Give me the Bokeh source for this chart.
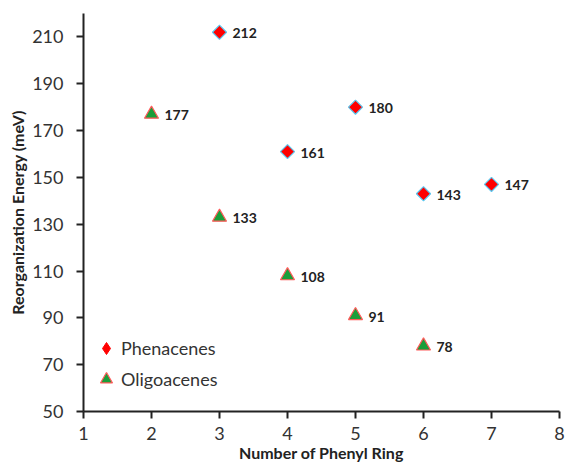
from bokeh.plotting import figure
from bokeh.models import Range1d, FixedTicker, Legend, LegendItem, ColumnDataSource
from bokeh.core.properties import value
from bokeh.embed import file_html
from bokeh.resources import INLINE

phen_x = [3, 5, 4, 6, 7]
phen_y = [212, 180, 161, 143, 147]
olig_x = [2, 3, 4, 5, 6]
olig_y = [177, 133, 108, 91, 78]
x_ticks = [1, 2, 3, 4, 5, 6, 7, 8]
y_ticks = [50, 70, 90, 110, 130, 150, 170, 190, 210]

FONT = "Lato"

p = figure(width=565, height=465, output_backend="svg", toolbar_location=None,
           x_range=Range1d(1, 8), y_range=Range1d(50, 220),
           min_border_left=83, min_border_right=6, min_border_top=13, min_border_bottom=54)
p.grid.visible = False
p.outline_line_color = None
p.background_fill_color = "white"
p.border_fill_color = "white"

for ax in (p.xaxis[0], p.yaxis[0]):
    ax.axis_line_width = 2
    ax.axis_line_color = "#222222"
    ax.major_tick_line_color = "#222222"
    ax.major_tick_line_width = 2
    ax.minor_tick_line_color = None
    ax.major_tick_in = 0
    ax.major_tick_out = 7
    ax.major_label_text_font = FONT
    ax.major_label_text_font_size = "18px"
    ax.major_label_text_color = "#333333"
    ax.axis_label_text_font = FONT
    ax.axis_label_text_font_size = "16px"
    ax.axis_label_text_font_style = "bold"
    ax.axis_label_text_color = "#222222"

p.xaxis.ticker = FixedTicker(ticks=x_ticks)
p.yaxis.ticker = FixedTicker(ticks=y_ticks)
p.xaxis.axis_label = "Number of Phenyl Ring"
p.yaxis.axis_label = "Reorganization Energy (meV)"
p.xaxis.major_label_standoff = 8
p.xaxis.axis_label_standoff = 0
p.yaxis.major_label_standoff = 13
p.yaxis.axis_label_standoff = 2

src_p = ColumnDataSource(dict(x=phen_x, y=phen_y, t=[str(v) for v in phen_y]))
src_o = ColumnDataSource(dict(x=olig_x, y=olig_y, t=[str(v) for v in olig_y]))

# diamond glyph used for the legend entry; drawn first so it sits hidden under the markers
r_p_leg = p.scatter("x", "y", source=src_p, marker="diamond", size=9,
                    fill_color="#ff0000", line_color="#ff0000", line_width=1)
r_p = p.scatter("x", "y", source=src_p, marker="square", angle=0.785398, size=10,
                fill_color="#ff0000", line_color="#5cc8f0", line_width=1.2)
r_o = p.scatter("x", "y", source=src_o, marker="triangle", size=14,
                fill_color="#1a9e3a", line_color="#ff5a5a", line_width=1.2)

for src in (src_p, src_o):
    p.text("x", "y", text="t", source=src, x_offset=13, y_offset=1,
           text_font=value(FONT), text_font_size="14px", text_font_style="bold",
           text_color="#222222", text_baseline="middle", text_align="left")

legend = Legend(items=[LegendItem(label="Phenacenes", renderers=[r_p_leg]),
                       LegendItem(label="Oligoacenes", renderers=[r_o])],
                location=(8, 17), border_line_color=None, background_fill_alpha=0,
                label_text_font=FONT, label_text_font_size="18px",
                label_text_color="#333333", glyph_width=30, glyph_height=30,
                spacing=1, padding=2, label_standoff=0)
p.add_layout(legend)

open("out.html", "w").write(file_html(p, INLINE))
